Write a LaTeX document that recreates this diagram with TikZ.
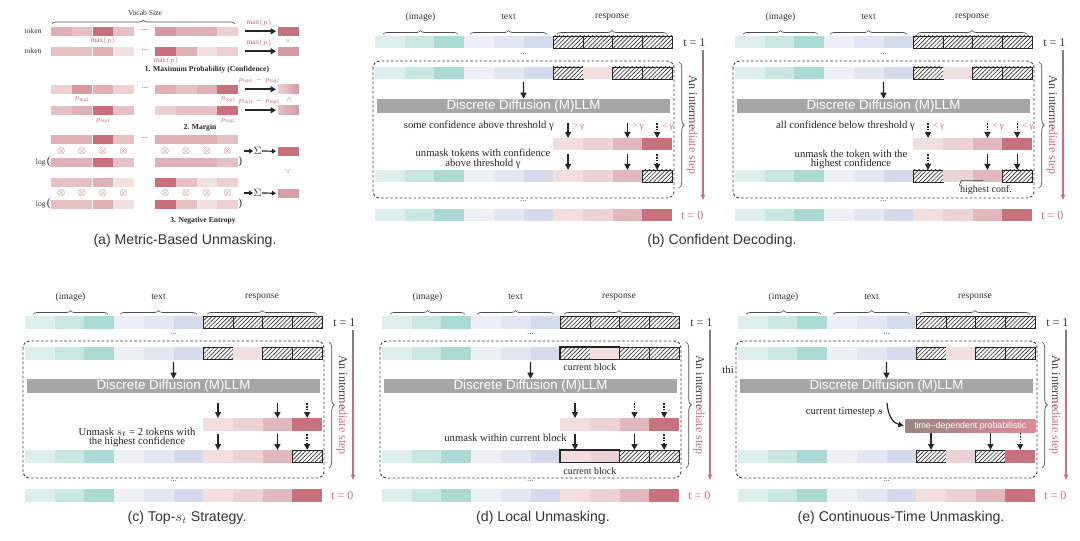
\documentclass[tikz,border=0pt]{standalone}
\usepackage{fontspec}
\setmainfont{Liberation Serif}
\setsansfont{Liberation Sans}
\usetikzlibrary{arrows.meta,patterns.meta,decorations.pathreplacing,calc,fit}
\definecolor{imA}{HTML}{DDEFED}
\definecolor{imB}{HTML}{C9E6E2}
\definecolor{imC}{HTML}{ABD9D3}
\definecolor{txA}{HTML}{EEF0F8}
\definecolor{txB}{HTML}{E3E6F3}
\definecolor{txC}{HTML}{D5DAEC}
\definecolor{rsA}{HTML}{F2DEDF}
\definecolor{rsB}{HTML}{ECD3D5}
\definecolor{rsC}{HTML}{E1B8BC}
\definecolor{rsD}{HTML}{C8727E}
\definecolor{llmgray}{HTML}{A6A6A6}
\definecolor{redlbl}{HTML}{C8606E}
\definecolor{tzero}{HTML}{C87080}
\definecolor{probL}{HTML}{9A8582}
\definecolor{probR}{HTML}{DC8C98}
\definecolor{pA}{HTML}{F3E0E1}
\definecolor{pB}{HTML}{ECD0D2}
\definecolor{pC}{HTML}{E6C1C4}
\definecolor{pD}{HTML}{DFB0B5}
\definecolor{pE}{HTML}{D699A2}
\definecolor{pF}{HTML}{C96F7C}
\tikzset{
 cell/.style={inner sep=0pt,outer sep=0pt,minimum width=22.275pt,minimum height=9.375pt,anchor=north west},
 im1/.style={cell,fill=imA}, im2/.style={cell,fill=imB}, im3/.style={cell,fill=imC},
 tx1/.style={cell,fill=txA}, tx2/.style={cell,fill=txB}, tx3/.style={cell,fill=txC},
 rs1/.style={cell,fill=rsA}, rs2/.style={cell,fill=rsB}, rs3/.style={cell,fill=rsC}, rs4/.style={cell,fill=rsD},
 hat/.style={cell,draw=black!85,line width=0.6pt,pattern={Lines[angle=45,distance=2.2pt,line width=0.5pt]},pattern color=black!80},
 acell/.style={inner sep=0pt,outer sep=0pt,minimum width=15.56pt,minimum height=6.4pt,anchor=north west},
 lbl/.style={font=\fontsize{7.2}{8}\selectfont,text=black!80,inner sep=0pt},
 ann/.style={font=\fontsize{8}{7.2}\selectfont,align=center,inner sep=0pt,text=black!85},
 glbl/.style={font=\fontsize{6.5}{7}\selectfont,text=redlbl,inner sep=0pt,anchor=west},
 tlbl/.style={font=\fontsize{9}{10}\selectfont,text=black!80,inner sep=0pt},
 stp/.style={font=\fontsize{9}{10}\selectfont,inner sep=0pt},
 dts/.style={font=\fontsize{7}{8}\selectfont,text=black!60,inner sep=0pt},
 capt/.style={font=\sffamily\fontsize{10.6}{12}\selectfont,text=black!80,inner sep=0pt},
 llm/.style={fill=llmgray,text=white,font=\sffamily\fontsize{10}{12}\selectfont,minimum width=219.75pt,minimum height=10.5pt,inner sep=0pt},
 brc/.style={decorate,decoration={brace,amplitude=3pt},line width=0.5pt,draw=black!70},
 brcv/.style={decorate,decoration={brace,amplitude=4pt},line width=0.5pt,draw=black!70},
 dbox/.style={draw=black!75,line width=0.7pt,dash pattern=on 2pt off 1.5pt,rounded corners=5pt},
 arr/.style={-{Triangle[length=4.5pt,width=4.5pt]},line width=1pt,draw=black!85},
 darr/.style={arr,dash pattern=on 1.2pt off 1pt},
 aarr/.style={-{Triangle[length=4pt,width=4.5pt]},line width=1.2pt,draw=black!85},
 aarrs/.style={-{Triangle[length=3pt,width=3.5pt]},line width=0.9pt,draw=black!85},
 atxt/.style={font=\fontsize{5.7}{6.5}\selectfont,text=black!80,inner sep=0pt},
 ared/.style={font=\fontsize{5.5}{6}\selectfont,text=redlbl,inner sep=0pt},
 abold/.style={font=\bfseries\fontsize{5.7}{6.5}\selectfont,text=black!85,inner sep=0pt},
 otm/.style={font=\fontsize{7}{7}\selectfont,text=redlbl,inner sep=0pt},
 blk/.style={draw=black!85,line width=1.1pt,inner sep=0pt,fill=none},
}
\newcommand\cellrow[4]{%
 \foreach \s [count=\i from #3] in {#4}{%
  \edef\tmp{\noexpand\node[\s] (#1-\i) at (\i*29.7,#2) {};}\tmp}}
\newcommand\arow[3]{%
 \foreach \cc [count=\i from 0] in {#3}{%
  \pgfmathsetmacro\xx{ifthenelse(\i<4,51+\i*20.75,155+(\i-4)*20.75)}%
  \edef\tmp{\noexpand\node[acell,fill=\cc] (#1-\i) at (\xx,#2) {};}\tmp}}
\newcommand\dar[3]{\draw[#1] ($(#2.north)+(0,-#3)$) -- (#2.north);}
\newcommand\gam[2]{\node[glbl] at ($(#1.north)+(5,-11)$) {#2};}
\newcommand\panelbase[1]{%
 \node[lbl] (#1-limg) at (45.5,-19) {(image)};
 \node[lbl] (#1-ltxt) at (133.5,-19) {text};
 \node[lbl] (#1-lrsp) at (237,-19) {response};
 \draw[brc] (8,-1.5) -- (83,-1.5);
 \draw[brc] (95,-1.5) -- (172,-1.5);
 \draw[brc] (182,-1.5) -- (292,-1.5);
 \cellrow{#1-a}{0}{0}{im1,im2,im3,tx1,tx2,tx3,hat,hat,hat,hat}%
 \node[tlbl,anchor=west] (#1-t1) at (308,6.5) {t = 1};
 \node[dts] (#1-d1) at (148.5,18) {...};
 \draw[dbox] (-2,25) rectangle (299,162);
 \cellrow{#1-b}{31}{0}{im1,im2,im3,tx1,tx2,tx3,hat,rs1,hat,hat}%
 \node[llm] (#1-llm) at (148.5,70) {Discrete Diffusion (M)LLM};
 \draw[arr] ([yshift=-1.8pt]#1-b-5.south west) -- (#1-llm.north);
 \node[dts] (#1-d2) at (148.5,165) {...};
 \cellrow{#1-z}{173}{0}{im1,im2,im3,tx1,tx2,tx3,rs1,rs2,rs3,rs4}%
 \node[tlbl,text=tzero,anchor=west] (#1-t0) at (306,179.5) {t = 0};
 \draw[brcv] (304,26) -- (304,152);
 \node[stp,rotate=-90] (#1-stp) at (317,89) {{\color{black!75}An inter}{\color{tzero!55!black}me}{\color{tzero}diate step}};
 \foreach \k in {0,...,12}{%
  \pgfmathsetmacro\pc{min(100,\k*14)}%
  \draw[line width=0.8pt,color={tzero!\pc!gray}] (328,{14+\k*11}) -- (328,{25.5+\k*11});}%
 \draw[line width=0.8pt,color=tzero,-{Stealth[length=4.5pt,width=3.6pt]}] (328,155) -- (328,164);
}
\begin{document}
\begin{tikzpicture}[x=0.75pt,y=-0.75pt]
\fill[white] (0,0) rectangle (1080,541);
\useasboundingbox (0,0) rectangle (1080,541);

% ---------------- panel (a)
\node[atxt] (vs) at (145,12.5) {Vocab Size};
\draw[brc] (52,24) -- (235,24);
\node[atxt] (tok1) at (33,31) {token};
\node[atxt] (tok2) at (33,51) {token};
\arow{a1}{27}{pD,pC,pF,pC,pE,pD,pD,pB}
\arow{a2}{47}{pC,pC,pD,pA,pF,pD,pA,pB}
\node[dts] (ad1) at (145,30) {...};
\node[dts] (ad2) at (145,50) {...};
\node[acell,fill=pF] (o1) at (278,27) {};
\node[acell,fill=pE] (o2) at (278,47) {};
\draw[aarr] ([xshift=5.2pt]a1-7.east) -- ([xshift=-1.5pt]o1.west);
\draw[aarr] ([xshift=5.2pt]a2-7.east) -- ([xshift=-1.5pt]o2.west);
\node[ared] (l1) at (259,23) {$\max(p)$};
\node[ared] (l2) at (259,43) {$\max(p)$};
\node[ared] (v1) at (288,41) {$\vee$};
\node[ared] (l3) at (103,40.5) {$\max(p)$};
\node[ared] (l4) at (166,60.5) {$\max(p)$};
\node[abold] (h1) at (207,70) {1. Maximum Probability (Confidence)};
\arow{m1}{85}{pB,pE,pD,pB,pD,pC,pD,pF}
\arow{m2}{106}{pC,pD,pF,pC,pB,pC,pC,pF}
\node[dts] (ad3) at (145,88) {...};
\node[ared] (q1) at (82,99.5) {$p_{\mathrm{top2}}$};
\node[ared] (q2) at (228,99.5) {$p_{\mathrm{top1}}$};
\node[ared] (q3) at (103,121) {$p_{\mathrm{top1}}$};
\node[ared] (q4) at (228,121) {$p_{\mathrm{top2}}$};
\node[acell,left color=pB,right color=pE] (o3) at (278,85) {};
\node[acell,left color=pC,right color=pE] (o4) at (278,106) {};
\draw[aarr] ([xshift=5.2pt]m1-7.east) -- ([xshift=-1.5pt]o3.west);
\draw[aarr] ([xshift=5.2pt]m2-7.east) -- ([xshift=-1.5pt]o4.west);
\node[ared] (q5) at (259,80.5) {$p_{\mathrm{top1}}-p_{\mathrm{top2}}$};
\node[ared] (q6) at (259,101.5) {$p_{\mathrm{top1}}-p_{\mathrm{top2}}$};
\node[ared] (v2) at (289,99.5) {$\wedge$};
\node[abold] (h2) at (200,128) {2. Margin};
\arow{e1}{135}{pD,pD,pF,pC,pD,pD,pD,pC}
\arow{e1l}{158}{pD,pD,pF,pC,pD,pD,pD,pC}
\arow{e2}{178}{pC,pC,pD,pA,pF,pC,pA,pB}
\arow{e2l}{200}{pC,pC,pD,pA,pF,pC,pA,pB}
\foreach \i in {0,...,7}{%
 \node[otm] at ($(e1-\i.south)!0.5!(e1l-\i.north)$) {$\otimes$};
 \node[otm] at ($(e2-\i.south)!0.5!(e2l-\i.north)$) {$\otimes$};}
\node[dts] (ad4) at (144,138) {...};
\node[atxt,anchor=east] (lg1) at (e1l-0.west) {log\,{\fontsize{8.5}{9}\selectfont(}};
\node[atxt,anchor=east] (lg2) at (e2l-0.west) {log\,{\fontsize{8.5}{9}\selectfont(}};
\node[atxt,anchor=west] (rp1) at (e1l-7.east) {\fontsize{8.5}{9}\selectfont)};
\node[atxt,anchor=west] (rp2) at (e2l-7.east) {\fontsize{8.5}{9}\selectfont)};
\node[atxt,font=\fontsize{8}{8}\selectfont] (sg1) at (257.5,151) {$\Sigma$};
\node[atxt,font=\fontsize{8}{8}\selectfont] (sg2) at (257.5,193) {$\Sigma$};
\coordinate (se1) at (244,151);
\coordinate (se2) at (244,193);
\node[acell,fill=pF] (o5) at (278,147) {};
\node[acell,fill=pE!80!pD] (o6) at (278,189) {};
\draw[aarrs] (se1) -- (sg1.west);
\draw[aarrs] (sg1.east) -- ([xshift=-1.5pt]o5.west);
\draw[aarrs] (se2) -- (sg2.west);
\draw[aarrs] (sg2.east) -- ([xshift=-1.5pt]o6.west);
\node[ared] (v3) at (288,172) {$\vee$};
\node[abold] (h3) at (203,221) {3. Negative Entropy};
\node[capt] (capa) at (185,241) {(a) Metric-Based Unmasking.};

% ---------------- panel (b) left
\begin{scope}[shift={(375,36)}]
\panelbase{bL}
\cellrow{bL-r}{102}{6}{rs1,rs2,rs3,rs4}
\node[ann,anchor=east] (bL-n1) at (179,90) {some confidence above threshold γ};
\dar{arr}{bL-r-6}{15} \gam{bL-r-6}{> γ}
\dar{arr}{bL-r-8}{15} \gam{bL-r-8}{> γ}
\dar{darr}{bL-r-9}{15} \gam{bL-r-9}{< γ}
\node[ann] (bL-n2) at (108,123) {unmask tokens with confidence\\above threshold γ};
\cellrow{bL-c}{134}{0}{im1,im2,im3,tx1,tx2,tx3,rs1,rs2,rs3,hat}
\dar{arr}{bL-c-6}{16}
\dar{arr}{bL-c-8}{16}
\dar{darr}{bL-c-9}{16}
\end{scope}

% ---------------- panel (b) right
\begin{scope}[shift={(735,36)}]
\panelbase{bR}
\cellrow{bR-r}{102}{6}{rs1,rs2,rs3,rs4}
\node[ann,anchor=east] (bR-n1) at (180,90) {all confidence below threshold γ};
\dar{darr}{bR-r-6}{15} \gam{bR-r-6}{< γ}
\dar{darr}{bR-r-8}{15} \gam{bR-r-8}{< γ}
\dar{darr}{bR-r-9}{15} \gam{bR-r-9}{< γ}
\node[ann] (bR-n2) at (116,123.5) {unmask the token with the\\highest confidence};
\cellrow{bR-c}{134}{0}{im1,im2,im3,tx1,tx2,tx3,hat,rs2,rs3,hat}
\dar{darr}{bR-c-6}{16}
\dar{arr}{bR-c-8}{16}
\dar{arr}{bR-c-9}{16}
\node[ann,font=\fontsize{7.5}{8}\selectfont] (bR-hc) at (251,154.5) {highest conf.};
\draw[line width=0.5pt,black!75] ([xshift=-0.5pt]bR-hc.north west) -- ++(2,-5) -- ++(22,0);
\end{scope}
\node[capt] (capb) at (722,241) {(b) Confident Decoding.};

% ---------------- panel (c)
\begin{scope}[shift={(25,316)}]
\panelbase{c}
\cellrow{c-r}{102}{6}{rs1,rs2,rs3,rs4}
\dar{arr}{c-r-6}{15}
\dar{arr}{c-r-8}{15}
\dar{darr}{c-r-9}{15}
\node[ann] (c-n2) at (112,121.5) {Unmask $s_t$ = 2 tokens with\\the highest confidence};
\cellrow{c-c}{134}{0}{im1,im2,im3,tx1,tx2,tx3,rs1,rs2,rs3,hat}
\dar{arr}{c-c-6}{16}
\dar{arr}{c-c-8}{16}
\dar{darr}{c-c-9}{16}
\end{scope}
\node[capt] (capc) at (187,518) {(c) Top-$s_t$ Strategy.};

% ---------------- panel (d)
\begin{scope}[shift={(382,316)}]
\panelbase{d}
\node[blk,fit=(d-b-6)(d-b-7)] (d-cb1) {};
\node[ann,font=\fontsize{7.5}{8}\selectfont] (d-cl1) at ($(d-cb1.south)+(0,7)$) {current block};
\cellrow{d-r}{102}{6}{rs1,rs2,rs3,rs4}
\dar{arr}{d-r-6}{15}
\dar{darr}{d-r-8}{15}
\dar{darr}{d-r-9}{15}
\node[ann,anchor=east] (d-n2) at (185,122) {unmask within current block};
\cellrow{d-c}{134}{0}{im1,im2,im3,tx1,tx2,tx3,rs1,rs2,hat,hat}
\node[blk,fit=(d-c-6)(d-c-7)] (d-cb2) {};
\node[ann,font=\fontsize{7.5}{8}\selectfont] (d-cl2) at ($(d-cb2.south)+(0,8)$) {current block};
\dar{arr}{d-c-6}{16}
\dar{arr}{d-c-8}{16}
\dar{darr}{d-c-9}{16}
\end{scope}
\node[capt] (capd) at (543,518) {(d) Local Unmasking.};

% ---------------- panel (e)
\begin{scope}[shift={(738,316)}]
\panelbase{e}
\node[ann,anchor=east] (e-thi) at (-4,54) {thi};
\node[inner sep=0pt,minimum width=97.5pt,minimum height=9.75pt,anchor=north west,left color=probL,right color=probR,text=white,font=\sffamily\fontsize{6.6}{7}\selectfont] (e-prob) at (167,103) {time–dependent probabilistic};
\node[ann,anchor=east] (e-cts) at (145,96) {current timestep $s$};
\coordinate (e-cs) at (149,87);
\draw[line width=0.9pt,black!85,-{Triangle[length=4pt,width=4pt]}] (e-cs) .. controls (150,100) and (155,107) .. ([xshift=-1pt]e-prob.west);
\cellrow{e-c}{134}{0}{im1,im2,im3,tx1,tx2,tx3,hat,rs2,hat,rs4}
\dar{arr}{e-c-6}{17}
\dar{arr}{e-c-8}{17}
\dar{darr}{e-c-9}{17}
\end{scope}
\node[capt] (cape) at (901,518) {(e) Continuous-Time Unmasking.};
\end{tikzpicture}
\end{document}
